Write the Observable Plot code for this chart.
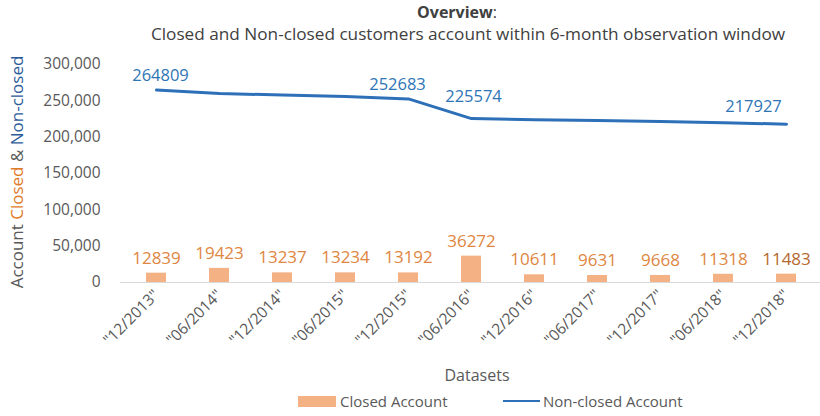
<!DOCTYPE html>
<html><head><meta charset="utf-8">
<script src="https://cdn.jsdelivr.net/npm/d3@7"></script>
<script src="https://cdn.jsdelivr.net/npm/@observablehq/plot@0.6"></script>
<style>
body{margin:0;background:#fff;font-family:"Open Sans",sans-serif;}
#wrap{position:relative;width:820px;height:416px;overflow:hidden;}
.t{position:absolute;left:0;width:820px;text-align:center;color:#404040;white-space:nowrap;}
#legend{position:absolute;top:390px;left:0;width:820px;height:22px;font-size:15px;color:#595959;}
#legend span{position:absolute;top:0;line-height:22px;}
</style></head><body><div id="wrap">
<div class="t" style="top:1px;font-size:16px;padding-left:94px;box-sizing:border-box;"><b>Overview</b>:</div>
<div class="t" style="top:22px;font-size:17.2px;padding-left:116px;box-sizing:border-box;">Closed and Non-closed customers account within 6-month observation window</div>
</div>
<script>
const periods = ["12/2013","06/2014","12/2014","06/2015","12/2015","06/2016","12/2016","06/2017","12/2017","06/2018","12/2018"];
const closedAccounts = [12839,19423,13237,13234,13192,36272,10611,9631,9668,11318,11483];
const nonClosedAccounts = [264809,260000,258000,256000,252683,225574,224000,222800,221500,219800,217927];
const labeledNonClosed = ["12/2013","12/2015","06/2016","12/2018"];
const yTicks = [0,50000,100000,150000,200000,250000,300000];

const data = periods.map((p,i)=>({period:p, label:`"${p}"`, closed:closedAccounts[i], nonClosed:nonClosedAccounts[i]}));
const lab = p => data.filter(d=>d.period===p);

const orange = "#F4B183", orangeText = "#E0863F", blue = "#2E70B8", blueText = "#2E75B6";

const plot = Plot.plot({
  width: 820, height: 416,
  marginTop: 64, marginBottom: 134, marginLeft: 120, marginRight: -2,
  style: {fontFamily: "Open Sans, sans-serif", fontSize: "15px", color: "#595959", background: "transparent"},
  x: {domain: data.map(d=>d.label), paddingInner: 0.687, paddingOuter: 0.3435, label: null},
  y: {domain: [0,300000], label: null},
  marks: [
    Plot.axisY({ticks: yTicks, tickFormat: d3.format(","), tickSize: 0, tickPadding: 20, fontSize: 15.5, fill: "#595959"}),
    Plot.axisX({tickSize: 0, tickPadding: 10, tickRotate: -45, fontSize: 15.5, fill: "#595959"}),
    Plot.ruleY([0], {stroke: "#d9d9d9", strokeWidth: 1.2}),
    Plot.barY(data, {x: "label", y: "closed", fill: orange}),
    Plot.text(data.slice(0,-1), {x: "label", y: "closed", text: d=>String(d.closed), dy: -15, fill: orangeText, fontSize: 17}),
    Plot.text(data.slice(-1), {x: "label", y: "closed", text: d=>String(d.closed), dy: -15, fill: "#B5692F", fontSize: 17}),
    Plot.line(data, {x: "label", y: "nonClosed", stroke: blue, strokeWidth: 3}),
    Plot.text(lab("12/2013"), {x: "label", y: "nonClosed", text: d=>String(d.nonClosed), dx: 4, dy: -14, fill: blueText, fontSize: 16.5}),
    Plot.text(lab("12/2015"), {x: "label", y: "nonClosed", text: d=>String(d.nonClosed), dx: -11, dy: -14, fill: blueText, fontSize: 16.5}),
    Plot.text(lab("06/2016"), {x: "label", y: "nonClosed", text: d=>String(d.nonClosed), dx: 2, dy: -22, fill: blueText, fontSize: 16.5}),
    Plot.text(lab("12/2018"), {x: "label", y: "nonClosed", text: d=>String(d.nonClosed), dx: -33, dy: -17, fill: blueText, fontSize: 16.5})
  ]
});
plot.style.position = "absolute"; plot.style.left = "0"; plot.style.top = "0";
const svg = d3.select(plot);
const yl = svg.append("text").attr("transform","translate(23,172) rotate(-90)").attr("text-anchor","middle")
  .attr("font-size",17).attr("fill","#595959");
yl.append("tspan").text("Account ");
yl.append("tspan").attr("fill","#E07B2A").text("Closed");
yl.append("tspan").text(" & ");
yl.append("tspan").attr("fill","#2E5C9A").text("Non-closed");
svg.append("text").attr("x",477).attr("y",381).attr("text-anchor","middle").attr("font-size",16).attr("fill","#595959").text("Datasets");
const wrap = document.getElementById("wrap");
wrap.appendChild(plot);
const lg = document.createElement("div"); lg.id = "legend";
lg.innerHTML = `<span style="left:298px;top:6px;width:38px;height:11px;background:${orange}"></span><span style="left:340px">Closed Account</span><span style="left:503px;top:10px;width:37px;height:0;border-top:2.5px solid ${blue}"></span><span style="left:543px">Non-closed Account</span>`;
wrap.appendChild(lg);
</script></body></html>
